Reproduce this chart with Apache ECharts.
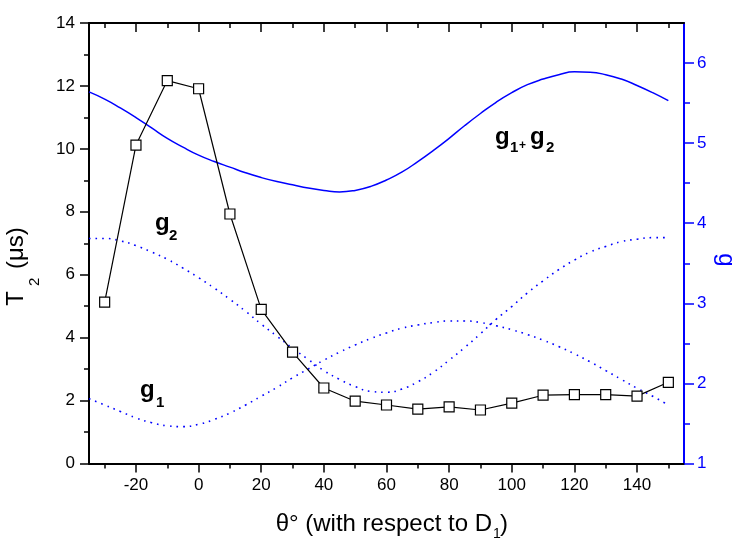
<!DOCTYPE html>
<html>
<head>
<meta charset="utf-8">
<script src="https://cdn.jsdelivr.net/npm/echarts@6/dist/echarts.min.js"></script>
<style>
html,body{margin:0;padding:0;background:#fff;}
#chart{width:737px;height:539px;}
</style>
</head>
<body>
<div id="chart"></div>
<script>
// ---- data ----
const xTickValues = [-20, 0, 20, 40, 60, 80, 100, 120, 140];
const xMinorValues = [-30, -10, 10, 30, 50, 70, 90, 110, 130, 150];
const gTickValues = [1, 2, 3, 4, 5, 6];
const gMinorValues = [1.5, 2.5, 3.5, 4.5, 5.5];

const thetaT2 = [-30, -20, -10, 0, 10, 20, 30, 40, 50, 60, 70, 80, 90, 100, 110, 120, 130, 140, 150];
const t2Values = [5.13, 10.12, 12.17, 11.91, 7.93, 4.90, 3.54, 2.40, 1.98, 1.86, 1.73, 1.80, 1.70, 1.92, 2.17, 2.19, 2.19, 2.14, 2.58];

const thetaG = [-35, -30, -25, -20, -15, -10, -5, 0, 5, 10, 15, 20, 25, 30, 35, 40, 45, 50, 55, 60, 65, 70, 75, 80, 85, 90, 95, 100, 105, 110, 115, 120, 125, 130, 135, 140, 145, 150];
const g1Values = [1.81, 1.73, 1.65, 1.57, 1.51, 1.47, 1.46, 1.49, 1.55, 1.63, 1.73, 1.84, 1.95, 2.07, 2.18, 2.29, 2.39, 2.48, 2.56, 2.63, 2.69, 2.73, 2.76, 2.78, 2.78, 2.76, 2.72, 2.67, 2.61, 2.54, 2.46, 2.37, 2.27, 2.16, 2.05, 1.94, 1.84, 1.73];
const g2Values = [3.81, 3.81, 3.78, 3.72, 3.64, 3.55, 3.44, 3.32, 3.19, 3.05, 2.90, 2.74, 2.59, 2.44, 2.30, 2.16, 2.05, 1.96, 1.90, 1.89, 1.93, 2.02, 2.14, 2.29, 2.45, 2.62, 2.80, 2.96, 3.13, 3.28, 3.42, 3.54, 3.64, 3.71, 3.77, 3.80, 3.82, 3.82];
const gSumValues = [5.64, 5.55, 5.44, 5.32, 5.19, 5.06, 4.95, 4.85, 4.77, 4.70, 4.63, 4.57, 4.52, 4.48, 4.44, 4.41, 4.39, 4.41, 4.46, 4.54, 4.64, 4.77, 4.91, 5.06, 5.22, 5.37, 5.51, 5.63, 5.73, 5.80, 5.855, 5.89, 5.885, 5.855, 5.80, 5.72, 5.63, 5.53];

// ---- chart ----
const FONT = '"Liberation Sans", Arial, sans-serif';
const BLUE = '#0000ff';
const zip = (xs, ys) => xs.map((x, i) => [x, ys[i]]);

const chart = echarts.init(document.getElementById('chart'), null, {renderer: 'canvas'});

const xBase = {type: 'value', min: -35, max: 155, gridIndex: 0, splitLine: {show: false}};

function txt(x, y, text, size, opts) {
  return {
    type: 'text', x: x, y: y, silent: true,
    style: Object.assign({text: text, font: size + 'px ' + FONT, fill: '#000', textAlign: 'left', textVerticalAlign: 'middle'}, opts || {})
  };
}
function btxt(x, y, text, size, opts) {
  return {
    type: 'text', x: x, y: y, silent: true,
    style: Object.assign({text: text, font: 'bold ' + size + 'px ' + FONT, fill: '#000', textAlign: 'left', textVerticalAlign: 'middle'}, opts || {})
  };
}

const option = {
  animation: false,
  backgroundColor: '#fff',
  grid: {left: 89, right: 53, top: 23, bottom: 75.5, containLabel: false},
  xAxis: [
    Object.assign({}, xBase, {
      position: 'bottom',
      axisLine: {show: true, onZero: false, lineStyle: {color: '#000', width: 2}},
      axisTick: {show: true, customValues: xTickValues, length: 9, lineStyle: {color: '#000', width: 1.5}},
      axisLabel: {show: true, customValues: xTickValues, fontSize: 17, color: '#000', fontFamily: FONT, margin: 13}
    }),
    Object.assign({}, xBase, {
      position: 'bottom',
      axisLine: {show: false, onZero: false},
      axisTick: {show: true, customValues: xMinorValues, length: 5, lineStyle: {color: '#000', width: 1.5}},
      axisLabel: {show: false}
    }),
    Object.assign({}, xBase, {
      position: 'top',
      axisLine: {show: true, onZero: false, lineStyle: {color: '#000', width: 2}},
      axisTick: {show: true, inside: true, customValues: xTickValues, length: 9, lineStyle: {color: '#000', width: 1.5}},
      axisLabel: {show: false}
    }),
    Object.assign({}, xBase, {
      position: 'top',
      axisLine: {show: false, onZero: false},
      axisTick: {show: true, inside: true, customValues: xMinorValues, length: 5, lineStyle: {color: '#000', width: 1.5}},
      axisLabel: {show: false}
    })
  ],
  yAxis: [
    {
      type: 'value', min: 0, max: 14, interval: 2, position: 'left',
      splitLine: {show: false},
      axisLine: {show: true, onZero: false, lineStyle: {color: '#000', width: 2}},
      axisTick: {show: true, length: 9, lineStyle: {color: '#000', width: 1.5}},
      minorTick: {show: true, splitNumber: 2, length: 5, lineStyle: {color: '#000', width: 1.5}},
      axisLabel: {fontSize: 17, color: '#000', fontFamily: FONT, margin: 14}
    },
    {
      type: 'value', min: 1, max: 6.5, position: 'right',
      splitLine: {show: false},
      axisLine: {show: true, onZero: false, lineStyle: {color: BLUE, width: 2}},
      axisTick: {show: true, customValues: gTickValues, length: 10, lineStyle: {color: BLUE, width: 1.5}},
      axisLabel: {show: true, customValues: gTickValues, fontSize: 17, color: BLUE, fontFamily: FONT, margin: 13}
    },
    {
      type: 'value', min: 1, max: 6.5, position: 'right',
      splitLine: {show: false},
      axisLine: {show: false, onZero: false},
      axisTick: {show: true, customValues: gMinorValues, length: 6, lineStyle: {color: BLUE, width: 1.5}},
      axisLabel: {show: false}
    }
  ],
  series: [
    {
      name: 'g1', type: 'line', xAxisIndex: 0, yAxisIndex: 1,
      data: zip(thetaG, g1Values), symbol: 'none', smooth: 0.5,
      lineStyle: {color: BLUE, width: 1.6, type: [1.6, 5]}, z: 2
    },
    {
      name: 'g2', type: 'line', xAxisIndex: 0, yAxisIndex: 1,
      data: zip(thetaG, g2Values), symbol: 'none', smooth: 0.5,
      lineStyle: {color: BLUE, width: 1.6, type: [1.6, 5]}, z: 2
    },
    {
      name: 'g1+g2', type: 'line', xAxisIndex: 0, yAxisIndex: 1,
      data: zip(thetaG, gSumValues), symbol: 'none', smooth: 0.5,
      lineStyle: {color: BLUE, width: 1.5}, z: 2
    },
    {
      name: 'T2', type: 'line', xAxisIndex: 0, yAxisIndex: 0,
      data: zip(thetaT2, t2Values),
      symbol: 'rect', symbolSize: 10, showAllSymbol: true,
      itemStyle: {color: '#fff', borderColor: '#000', borderWidth: 1.2},
      lineStyle: {color: '#000', width: 1.2}, z: 5
    }
  ],
  graphic: [
    // x axis title
    txt(492, 524, 'θ° (with respect to D', 24, {textAlign: 'right'}),
    txt(493, 534, '1', 14),
    txt(500, 524, ')', 24),
    // left axis title (rotated)
    {
      type: 'group', x: 16, y: 291, rotation: Math.PI / 2, silent: true,
      children: [
        txt(0, 0, 'T', 24, {textAlign: 'right'}),
        txt(5, 19, '2', 15),
        txt(22, 0, '(μs)', 24)
      ]
    },
    // right axis title (rotated)
    {
      type: 'group', x: 726, y: 260, rotation: -Math.PI / 2, silent: true,
      children: [ txt(0, 0, 'g', 24, {textAlign: 'center', fill: BLUE}) ]
    },
    // curve annotations
    btxt(155, 223, 'g', 24),
    btxt(169, 236, '2', 15),
    btxt(140, 390, 'g', 24),
    btxt(156, 403, '1', 15),
    btxt(495, 137, 'g', 24),
    btxt(510, 148, '1', 15),
    txt(519, 146, '+', 12, {fontWeight: 'bold'}),
    btxt(530, 137, 'g', 24),
    btxt(546, 148, '2', 15)
  ]
};
chart.setOption(option);
</script>
</body>
</html>
